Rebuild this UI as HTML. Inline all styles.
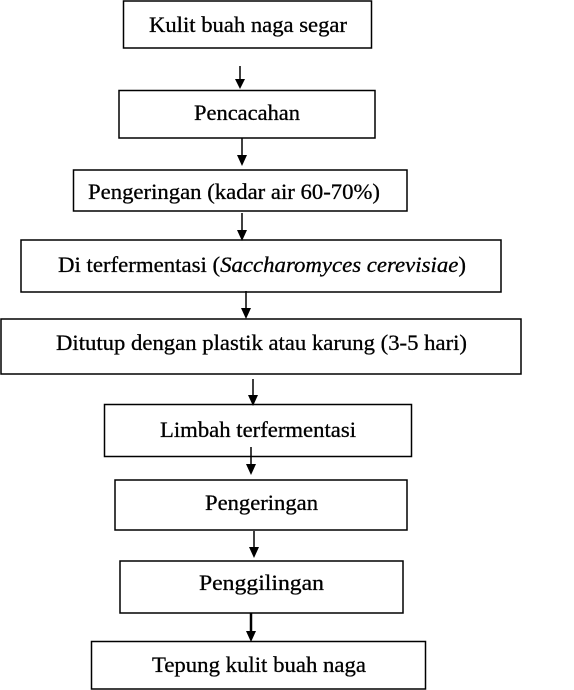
<!DOCTYPE html>
<html><head><meta charset="utf-8"><style>
html,body{margin:0;padding:0;background:#fff;width:574px;height:690px;overflow:hidden}
svg{display:block}
text{font-family:"Liberation Serif",serif;font-size:22.5px;fill:#000;stroke:#000;stroke-width:0.3}
</style></head><body>
<svg width="574" height="690" xmlns="http://www.w3.org/2000/svg">
<g fill="none" stroke="#000" stroke-width="1.5">
<rect x="123.5" y="1" width="248" height="47"/>
<rect x="119" y="90.5" width="256" height="47.5"/>
<rect x="73.5" y="170" width="333.5" height="41"/>
<rect x="21" y="240" width="480" height="52"/>
<rect x="1" y="319" width="520" height="55"/>
<rect x="104.5" y="404.5" width="307" height="52"/>
<rect x="115" y="480" width="292" height="50"/>
<rect x="120" y="561" width="283" height="52"/>
<rect x="91.5" y="641.5" width="334" height="47.5"/>
</g>
<g stroke="#000" stroke-width="1.5">
<line x1="240" y1="66" x2="240" y2="80"/>
<line x1="242" y1="138" x2="242" y2="156"/>
<line x1="242" y1="213" x2="242" y2="231"/>
<line x1="246" y1="291" x2="246" y2="309"/>
<line x1="253" y1="379" x2="253" y2="396"/>
<line x1="251" y1="447" x2="251" y2="465"/>
<line x1="254" y1="531" x2="254" y2="548"/>
<line x1="251" y1="613" x2="251" y2="632" stroke-width="2.5"/>
</g>
<g fill="#000">
<polygon points="235,79 245,79 240,89"/>
<polygon points="237,155 247,155 242,166"/>
<polygon points="237,230 247,230 242,241"/>
<polygon points="241,308 251,308 246,319"/>
<polygon points="248,395 258,395 253,406"/>
<polygon points="246,464 256,464 251,475"/>
<polygon points="249,547 259,547 254,558"/>
<polygon points="246,631 256,631 251,642"/>
</g>
<text x="149" y="32" textLength="198" lengthAdjust="spacingAndGlyphs">Kulit buah naga segar</text>
<text x="194" y="120" textLength="106" lengthAdjust="spacingAndGlyphs">Pencacahan</text>
<text x="88" y="199" textLength="292" lengthAdjust="spacingAndGlyphs">Pengeringan (kadar air 60-70%)</text>
<text x="58" y="272" textLength="408" lengthAdjust="spacingAndGlyphs">Di terfermentasi (<tspan font-style="italic">Saccharomyces cerevisiae</tspan>)</text>
<text x="56" y="350" textLength="411" lengthAdjust="spacingAndGlyphs">Ditutup dengan plastik atau karung (3-5 hari)</text>
<text x="160" y="437" textLength="196" lengthAdjust="spacingAndGlyphs">Limbah terfermentasi</text>
<text x="205" y="510" textLength="113" lengthAdjust="spacingAndGlyphs">Pengeringan</text>
<text x="199" y="590" textLength="125" lengthAdjust="spacingAndGlyphs">Penggilingan</text>
<text x="152" y="672" textLength="214" lengthAdjust="spacingAndGlyphs">Tepung kulit buah naga</text>
</svg>
</body></html>
